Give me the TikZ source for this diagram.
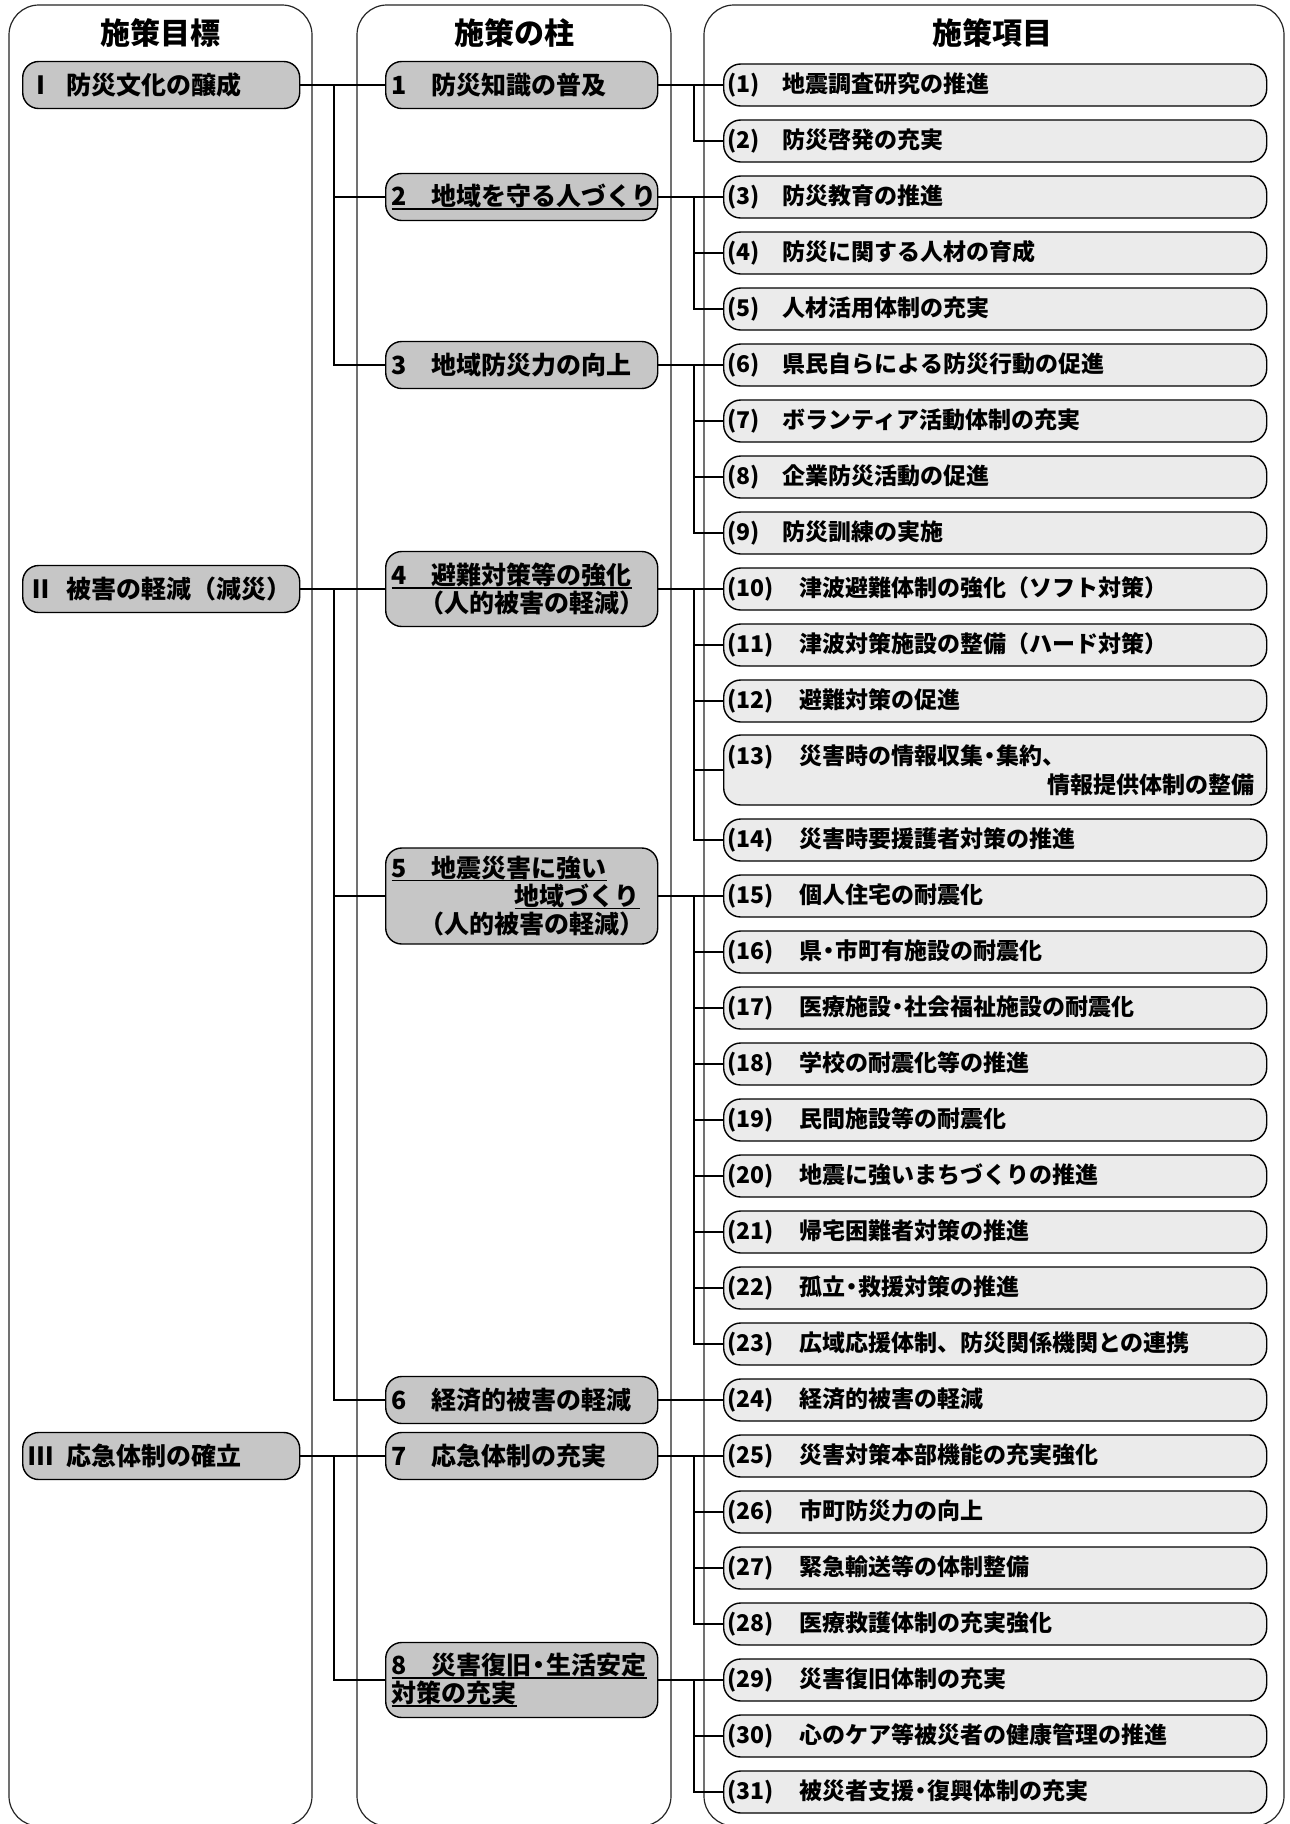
\documentclass[tikz,border=0pt]{standalone}
\usepackage{fontspec}
\setmainfont{Noto Sans CJK JP}
\newsavebox\ulbox
\newcommand\myul[1]{\leavevmode\sbox\ulbox{#1}\rlap{\rule[-4pt]{\wd\ulbox}{1.6pt}}\usebox\ulbox}
\newcommand\lbla[1]{\makebox[2.4em][l]{(#1)}}
\newcommand\lblb[1]{\makebox[3.1em][l]{(#1)}}
\newcommand\ten{\makebox[0.6em][c]{・}}
\tikzset{
  colframe/.style={draw=black!85, line width=1.2pt, rounded corners=30pt},
  head/.style={font=\bfseries\fontsize{30}{34}\selectfont, inner sep=0pt},
  goal/.style={draw, line width=1.4pt, fill=gray!45, rounded corners=16pt,
    minimum height=47pt, anchor=west, align=left, text width=265pt,
    inner xsep=6pt, inner ysep=3pt, font=\bfseries\fontsize{25}{28}\selectfont},
  pillar/.style={goal, text width=260pt},
  item/.style={draw, line width=1.4pt, fill=gray!16, rounded corners=17pt,
    minimum height=42pt, anchor=west, align=left, text width=535pt,
    inner xsep=4pt, inner ysep=2pt, font=\bfseries\fontsize{23}{30}\selectfont},
  conn/.style={line width=2.4pt, line cap=rect},
}
\begin{document}
\begin{tikzpicture}[x=1pt,y=-1pt]
\useasboundingbox (0,0) rectangle (1290,1824);
\fill[white] (0,0) rectangle (1290,1824);
% column frames
\draw[colframe] (9,1826) rectangle (312,5);
\draw[colframe] (357,1826) rectangle (671,5);
\draw[colframe] (704,1826) rectangle (1284,5);
% headers
\node[head] (h1) at (160,33) {施策目標};
\node[head] (h2) at (514,33) {施策の柱};
\node[head] (h3) at (992,33) {施策項目};
% trunk x positions
\coordinate (lx) at (334,0);
\coordinate (ux) at (694,0);
% goals
\node[goal] (g1) at (22,85) {Ⅰ\hspace{0.5em}防災文化の醸成};
\node[goal] (g2) at (22,589) {Ⅱ\hspace{0.5em}被害の軽減（減災）};
\node[goal] (g3) at (22,1456) {Ⅲ\hspace{0.5em}応急体制の確立};
% pillars
\node[pillar] (p1) at (385,85) {1　防災知識の普及};
\node[pillar] (p2) at (385,197) {\myul{2　地域を守る人づくり}};
\node[pillar] (p3) at (385,365) {3　地域防災力の向上};
\node[pillar, minimum height=75pt] (p4) at (385,589) {\myul{4　避難対策等の強化}\\\hspace*{28pt}（人的被害の軽減）};
\node[pillar, minimum height=96pt] (p5) at (385,896) {\myul{5　地震災害に強い}\\\hspace*{123pt}\myul{地域づくり}\\\hspace*{28pt}（人的被害の軽減）};
\node[pillar] (p6) at (385,1400) {6　経済的被害の軽減};
\node[pillar] (p7) at (385,1456) {7　応急体制の充実};
\node[pillar, minimum height=75pt] (p8) at (385,1680) {\myul{8　災害復旧\ten 生活安定}\\\myul{対策の充実}};
% items
\node[item] (r1) at (723,85) {\lbla{1}地震調査研究の推進};
\node[item] (r2) at (723,141) {\lbla{2}防災啓発の充実};
\node[item] (r3) at (723,197) {\lbla{3}防災教育の推進};
\node[item] (r4) at (723,253) {\lbla{4}防災に関する人材の育成};
\node[item] (r5) at (723,309) {\lbla{5}人材活用体制の充実};
\node[item] (r6) at (723,365) {\lbla{6}県民自らによる防災行動の促進};
\node[item] (r7) at (723,421) {\lbla{7}ボランティア活動体制の充実};
\node[item] (r8) at (723,477) {\lbla{8}企業防災活動の促進};
\node[item] (r9) at (723,533) {\lbla{9}防災訓練の実施};
\node[item] (r10) at (723,589) {\lblb{10}津波避難体制の強化（ソフト対策）};
\node[item] (r11) at (723,645) {\lblb{11}津波対策施設の整備（ハード対策）};
\node[item] (r12) at (723,701) {\lblb{12}避難対策の促進};
\node[item, minimum height=70pt, font=\bfseries\fontsize{23}{29}\selectfont] (r13) at (723,770) {\lblb{13}災害時の情報収集\ten 集約、\\\hspace*{320pt}情報提供体制の整備};
\node[item] (r14) at (723,840) {\lblb{14}災害時要援護者対策の推進};
\node[item] (r15) at (723,896) {\lblb{15}個人住宅の耐震化};
\node[item] (r16) at (723,952) {\lblb{16}県\ten 市町有施設の耐震化};
\node[item] (r17) at (723,1008) {\lblb{17}医療施設\ten 社会福祉施設の耐震化};
\node[item] (r18) at (723,1064) {\lblb{18}学校の耐震化等の推進};
\node[item] (r19) at (723,1120) {\lblb{19}民間施設等の耐震化};
\node[item] (r20) at (723,1176) {\lblb{20}地震に強いまちづくりの推進};
\node[item] (r21) at (723,1232) {\lblb{21}帰宅困難者対策の推進};
\node[item] (r22) at (723,1288) {\lblb{22}孤立\ten 救援対策の推進};
\node[item] (r23) at (723,1344) {\lblb{23}広域応援体制、防災関係機関との連携};
\node[item] (r24) at (723,1400) {\lblb{24}経済的被害の軽減};
\node[item] (r25) at (723,1456) {\lblb{25}災害対策本部機能の充実強化};
\node[item] (r26) at (723,1512) {\lblb{26}市町防災力の向上};
\node[item] (r27) at (723,1568) {\lblb{27}緊急輸送等の体制整備};
\node[item] (r28) at (723,1624) {\lblb{28}医療救護体制の充実強化};
\node[item] (r29) at (723,1680) {\lblb{29}災害復旧体制の充実};
\node[item] (r30) at (723,1736) {\lblb{30}心のケア等被災者の健康管理の推進};
\node[item] (r31) at (723,1792) {\lblb{31}被災者支援\ten 復興体制の充実};
% goal -> pillar connectors
\draw[conn] (g1.east) -- (p1.west);
\draw[conn] (g1.east -| lx) |- (p2.west);
\draw[conn] (g1.east -| lx) |- (p3.west);
\draw[conn] (g2.east) -- (p4.west);
\draw[conn] (g2.east -| lx) |- (p5.west);
\draw[conn] (g2.east -| lx) |- (p6.west);
\draw[conn] (g3.east) -- (p7.west);
\draw[conn] (g3.east -| lx) |- (p8.west);
% pillar -> item connectors
\draw[conn] (p1.east) -- (r1.west);
\draw[conn] (p1.east -| ux) |- (r2.west);
\draw[conn] (p2.east) -- (r3.west);
\foreach \k in {4,5} \draw[conn] (p2.east -| ux) |- (r\k.west);
\draw[conn] (p3.east) -- (r6.west);
\foreach \k in {7,8,9} \draw[conn] (p3.east -| ux) |- (r\k.west);
\draw[conn] (p4.east) -- (r10.west);
\foreach \k in {11,12,13,14} \draw[conn] (p4.east -| ux) |- (r\k.west);
\draw[conn] (p5.east) -- (r15.west);
\foreach \k in {16,...,23} \draw[conn] (p5.east -| ux) |- (r\k.west);
\draw[conn] (p6.east) -- (r24.west);
\draw[conn] (p7.east) -- (r25.west);
\foreach \k in {26,27,28} \draw[conn] (p7.east -| ux) |- (r\k.west);
\draw[conn] (p8.east) -- (r29.west);
\foreach \k in {30,31} \draw[conn] (p8.east -| ux) |- (r\k.west);
\end{tikzpicture}
\end{document}
